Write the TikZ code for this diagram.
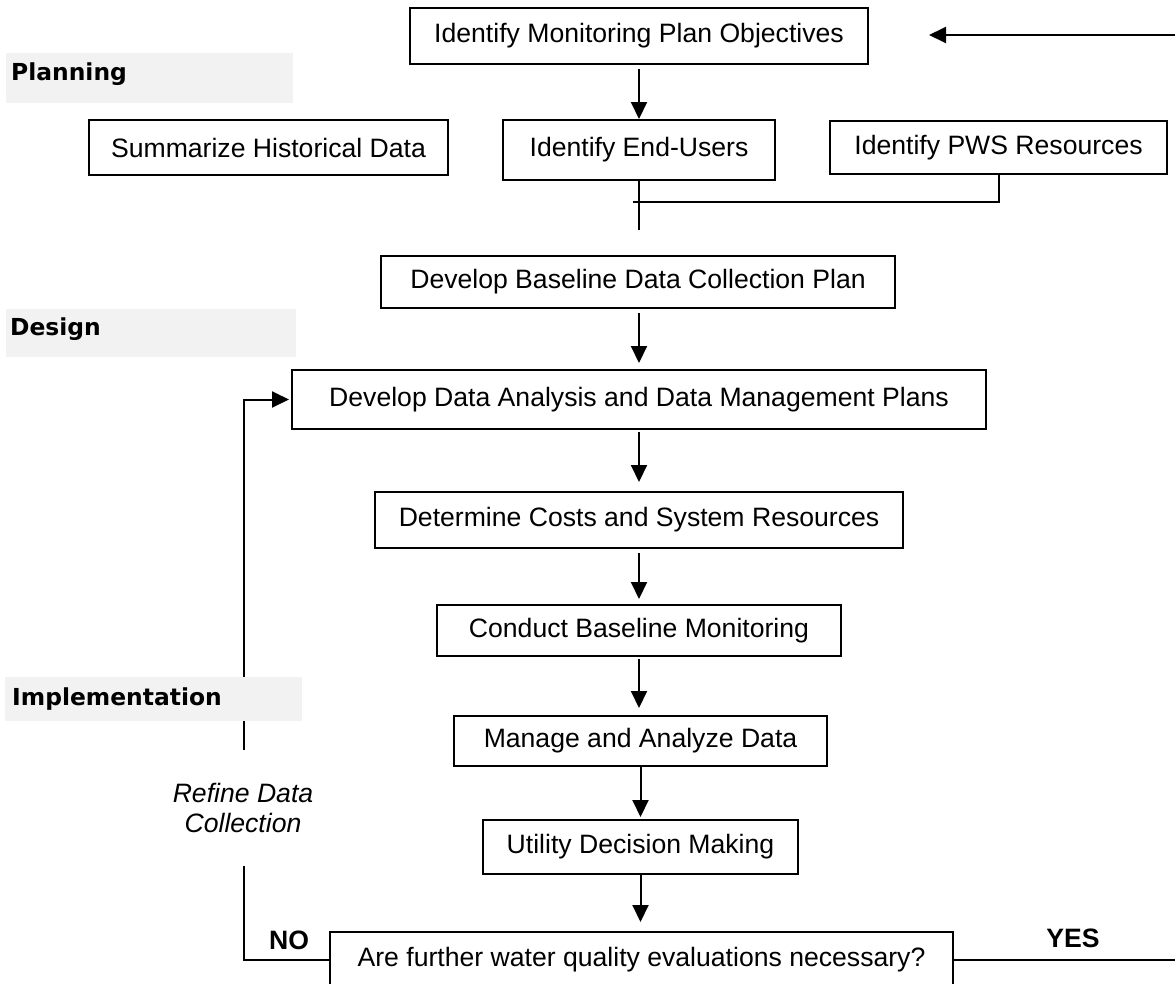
\documentclass[tikz,border=0pt]{standalone}
\usepackage{fontspec}
\setmainfont{Liberation Sans}
\newfontfamily\dvs{DejaVu Sans}
\usetikzlibrary{arrows.meta}
\definecolor{bandc}{HTML}{F2F2F2}
\begin{document}
\begin{tikzpicture}[x=1pt,y=-1pt,
  box/.style={draw, line width=2pt, inner sep=0pt, align=center, font=\fontsize{26.6}{30}\selectfont},
  conn/.style={line width=2pt},
  arr/.style={line width=2pt, -{Triangle[length=17pt,width=16pt]}},
  lbl/.style={font=\dvs\bfseries\fontsize{23.4}{28}\selectfont, inner sep=0pt},
  yn/.style={font=\bfseries\fontsize{26.6}{30}\selectfont, inner sep=0pt},
  note/.style={font=\itshape\fontsize{26.6}{30}\selectfont, align=center, inner sep=0pt, fill=white},
]
\useasboundingbox (0,0) rectangle (1175,983);
\clip (0,0) rectangle (1175,983);

% boxes
\node[box, minimum width=458pt, minimum height=56pt] (obj)  at (639,36)    {Identify Monitoring Plan Objectives};
\node[box, minimum width=359pt, minimum height=55pt] (sum)  at (268.5,147.5) {Summarize Historical Data};
\node[box, minimum width=272pt, minimum height=60pt] (endu) at (639,150)   {Identify End-Users};
\node[box, minimum width=337pt, minimum height=53pt] (pws)  at (998.5,147.5) {Identify PWS Resources};
\node[box, minimum width=514pt, minimum height=52pt] (base) at (638,282)   {Develop Baseline Data Collection Plan};
\node[box, minimum width=694pt, minimum height=59pt] (dda)  at (639,399.5) {Develop Data Analysis and Data Management Plans};
\node[box, minimum width=528pt, minimum height=56pt] (cost) at (639,520)   {Determine Costs and System Resources};
\node[box, minimum width=404pt, minimum height=51pt] (cond) at (639,630.5) {Conduct Baseline Monitoring};
\node[box, minimum width=373pt, minimum height=50pt] (man)  at (640.5,741) {Manage and Analyze Data};
\node[box, minimum width=315pt, minimum height=54pt] (util) at (640.5,847) {Utility Decision Making};
\node[box, minimum width=623pt, minimum height=56pt] (dec)  at (641.5,960) {Are further water quality evaluations necessary?};

% connectors
\draw[arr, shorten <=4pt] (obj.south) -- (endu.north);
\coordinate (junc) at (639,230);
\coordinate (hl) at (633,202);
\draw[conn] (endu.south) -- (junc);
\draw[conn] (pws.south) |- (hl);
\draw[arr, shorten <=4pt, shorten >=6pt] (dda.north |- base.south) -- (dda.north);
\draw[arr, shorten <=2pt, shorten >=9pt] (dda.south) -- (cost.north);
\draw[arr, shorten <=4pt, shorten >=5pt] (cost.south) -- (cond.north);
\draw[arr, shorten <=2pt, shorten >=7pt] (cond.south) -- (cond.south |- man.north);
\draw[arr, shorten <=0pt, shorten >=2pt] (man.south) -- (util.north);
\draw[arr, shorten <=0pt, shorten >=9pt] (util.south) -- (util.south |- dec.north);

% NO loop
\coordinate (lp) at (244,680);
\draw[arr, shorten >=2pt] (dec.west) -| (lp) |- (dda.west);
\node[note, minimum height=116pt] (refine) at (243,808) {Refine Data\\Collection};

% YES loop
\coordinate (r1) at (1190,960);
\coordinate (r2) at (1190,35);
\coordinate (objin) at (929,35);
\draw[arr] (dec.east) -- (r1) -- (r2) -- (objin);

\node[yn] (no) at (289,940) {NO};
\node[yn] (yes) at (1073,938) {YES};

% section bands
\path[fill=bandc] (6,53) rectangle (293,103);
\node[lbl, anchor=base west] (planning) at (11,80) {Planning};
\path[fill=bandc] (6,309) rectangle (296,357);
\node[lbl, anchor=base west] (design) at (10,335) {Design};
\path[fill=bandc] (5,677) rectangle (302,721);
\node[lbl, anchor=base west] (impl) at (12,705) {Implementation};
\end{tikzpicture}
\end{document}
